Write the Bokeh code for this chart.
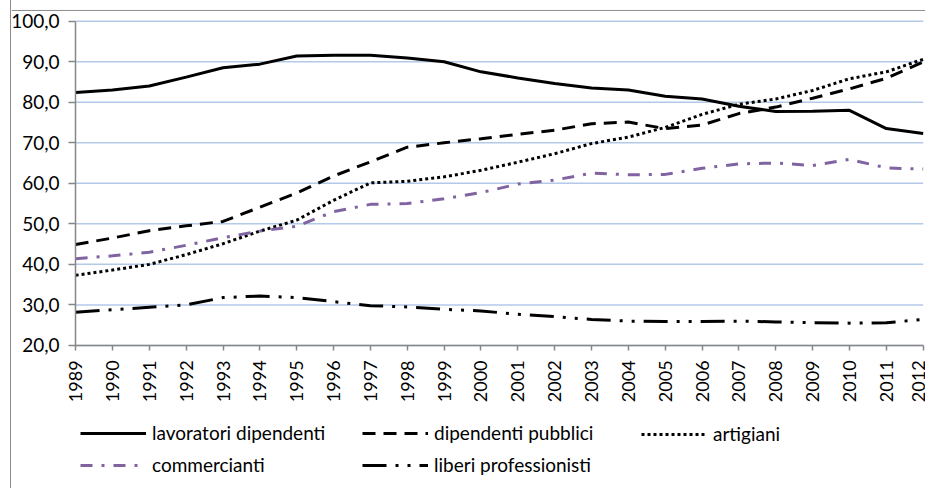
from bokeh.plotting import figure
from bokeh.models import Range1d, FixedTicker, Legend, LegendItem, Span
from bokeh.embed import file_html
from bokeh.resources import INLINE
import math

years = [1989, 1990, 1991, 1992, 1993, 1994, 1995, 1996, 1997, 1998, 1999, 2000,
         2001, 2002, 2003, 2004, 2005, 2006, 2007, 2008, 2009, 2010, 2011, 2012]
year_labels = [str(y) for y in years]

lavoratori_dipendenti = [82.4, 83.0, 84.0, 86.2, 88.5, 89.4, 91.4, 91.6, 91.6, 90.9, 90.0, 87.5,
                         86.0, 84.6, 83.5, 83.0, 81.5, 80.8, 79.0, 77.7, 77.8, 78.0, 73.5, 72.3]
dipendenti_pubblici = [44.9, 46.5, 48.3, 49.5, 50.6, 54.1, 57.6, 61.8, 65.3, 68.9, 70.0, 71.0,
                       72.1, 73.1, 74.7, 75.1, 73.5, 74.4, 77.2, 78.8, 81.0, 83.3, 85.9, 89.9]
artigiani = [37.3, 38.6, 40.0, 42.4, 45.1, 48.2, 50.9, 55.8, 60.1, 60.5, 61.6, 63.2,
             65.2, 67.3, 69.8, 71.4, 73.8, 77.0, 79.5, 80.8, 82.9, 85.8, 87.5, 90.6]
commercianti = [41.4, 42.1, 43.0, 44.7, 46.6, 48.2, 49.4, 53.0, 54.8, 55.0, 56.2, 57.7,
                59.8, 60.8, 62.5, 62.1, 62.2, 63.7, 64.8, 65.0, 64.4, 65.9, 63.8, 63.5]
liberi_professionisti = [28.2, 28.8, 29.4, 30.0, 31.8, 32.2, 31.8, 30.8, 29.8, 29.5, 28.9, 28.5,
                         27.7, 27.1, 26.4, 26.0, 25.9, 25.9, 26.0, 25.8, 25.6, 25.5, 25.6, 26.4]

y_ticks = [20, 30, 40, 50, 60, 70, 80, 90, 100]
y_tick_labels = ["20,0", "30,0", "40,0", "50,0", "60,0", "70,0", "80,0", "90,0", "100,0"]

FONT = "Lato"
AXIS_COLOR = "#868686"
GRID_COLOR = "#b4c9e8"
BORDER_COLOR = "#8c8c8c"
PURPLE = "#8064A2"

# The frame covers the whole canvas so that axis labels and the legend are not
# clipped; both axes are pinned at the data origin (1989, 20).
p = figure(width=915, height=488, output_backend="svg", toolbar_location=None,
           x_range=Range1d(1987.26, 2012.09), y_range=Range1d(-15.3, 105.1),
           min_border_left=0, min_border_top=0, min_border_right=0, min_border_bottom=0)
p.margin = (0, 0, 0, 10)
p.styles = {"border-left": "1px solid " + BORDER_COLOR}
p.outline_line_color = None
p.background_fill_color = "white"
p.border_fill_color = "white"
p.xgrid.visible = False
p.ygrid.visible = False

# top edge of the chart-area border (decorative)
p.add_layout(Span(location=102.64, dimension="width", line_color=BORDER_COLOR, line_width=1))

# horizontal gridlines spanning the category range only
n = len(y_ticks)
p.segment(x0=[years[0]] * n, x1=[years[-1]] * n, y0=y_ticks, y1=y_ticks,
          line_color=GRID_COLOR, line_width=1.5)

r1 = p.line(years, lavoratori_dipendenti, line_color="black", line_width=3)
r2 = p.line(years, dipendenti_pubblici, line_color="black", line_width=3, line_dash="13 8")
r3 = p.line(years, artigiani, line_color="black", line_width=3, line_dash="3 3")
r4 = p.line(years, commercianti, line_color=PURPLE, line_width=3, line_dash="12 9 3 9")
r5 = p.line(years, liberi_professionisti, line_color="black", line_width=3,
            line_dash="24 9 3 9 3 9")

# axes
p.yaxis.ticker = FixedTicker(ticks=y_ticks)
p.yaxis.major_label_overrides = dict(zip(y_ticks, y_tick_labels))
p.yaxis.bounds = (y_ticks[0], y_ticks[-1])
p.yaxis.fixed_location = years[0]
p.xaxis.ticker = FixedTicker(ticks=years)
p.xaxis.major_label_overrides = dict(zip(years, year_labels))
p.xaxis.major_label_orientation = math.pi / 2
p.xaxis.bounds = (years[0], years[-1])
p.xaxis.fixed_location = y_ticks[0]

for ax in (p.xaxis, p.yaxis):
    ax.axis_line_color = AXIS_COLOR
    ax.axis_line_width = 1.5
    ax.major_tick_line_color = AXIS_COLOR
    ax.major_tick_line_width = 1.5
    ax.minor_tick_line_color = None
    ax.major_tick_in = 0
    ax.major_label_text_font = FONT
    ax.major_label_text_color = "black"

p.yaxis.major_label_text_font_size = "19px"
p.xaxis.major_label_text_font_size = "18px"
p.yaxis.major_tick_out = 7
p.yaxis.major_label_standoff = 9
p.xaxis.major_tick_out = 5
p.xaxis.major_label_standoff = 10

def make_legend(items, loc):
    return Legend(items=items, location=loc, orientation="vertical",
                  glyph_width=66, glyph_height=22, label_standoff=6, spacing=9,
                  padding=0, margin=0, border_line_color=None, background_fill_alpha=0,
                  label_text_font=FONT, label_text_font_size="19px", label_text_color="black",
                  label_height=22)

lg1 = make_legend([LegendItem(label="lavoratori dipendenti", renderers=[r1]),
                   LegendItem(label="commercianti", renderers=[r4])], (69, 12))
lg2 = make_legend([LegendItem(label="dipendenti pubblici", renderers=[r2]),
                   LegendItem(label="liberi professionisti", renderers=[r5])], (351, 12))
lg3 = make_legend([LegendItem(label="artigiani", renderers=[r3])], (630, 43))
for lg in (lg1, lg2, lg3):
    p.add_layout(lg, "center")

open("out.html", "w").write(file_html(p, INLINE))
